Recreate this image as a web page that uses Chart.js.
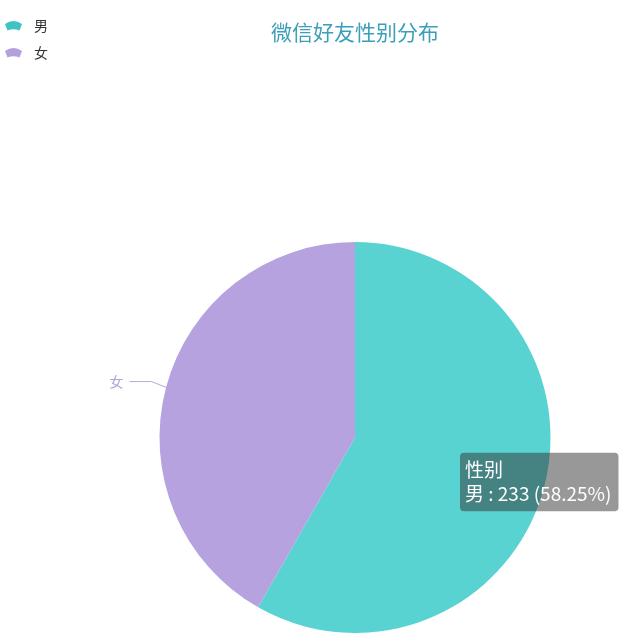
<!DOCTYPE html>
<html>
<head>
<meta charset="utf-8">
<script src="https://cdn.jsdelivr.net/npm/chart.js@4/dist/chart.umd.min.js"></script>
<style>
  html, body { margin: 0; padding: 0; background: #fff; }
  #wrap { width: 636px; height: 633px; position: relative; }
</style>
</head>
<body>
<div id="wrap"><canvas id="pie"></canvas></div>
<script>
// 微信好友性别分布
const categories = ['男', '女'];
const friendCounts = [233, 167];
const seriesName = '性别';
const chartTitle = '微信好友性别分布';

const sliceColors = ['#59d3d2', '#b5a2df'];
const legendColors = ['#3fc3c4', '#b3a0dc'];
const FONT = '"Noto Sans CJK SC", "Noto Sans", sans-serif';
const total = friendCounts.reduce((s, v) => s + v, 0);

// fan-shaped legend icon (echarts style)
function drawFan(ctx, x, y, color) {
    ctx.save();
    ctx.fillStyle = color;
    ctx.beginPath();
    ctx.moveTo(x, y - 2);
    ctx.quadraticCurveTo(x + 8.5, y - 8, x + 17, y - 2);
    ctx.lineTo(x + 14.5, y + 4.5);
    ctx.quadraticCurveTo(x + 8.5, y + 2, x + 2.5, y + 4.5);
    ctx.closePath();
    ctx.fill();
    ctx.restore();
}

// title, legend and outside label for the female slice
const decorPlugin = {
    id: 'decor',
    afterDatasetsDraw(chart) {
        const ctx = chart.ctx;
        ctx.save();
        ctx.font = '21px ' + FONT;
        ctx.fillStyle = '#3b9fb9';
        ctx.textAlign = 'center';
        ctx.textBaseline = 'middle';
        ctx.fillText(chartTitle, 355, 32);

        ctx.font = '14px ' + FONT;
        ctx.textAlign = 'left';
        categories.forEach((c, i) => {
            const yy = 26 + i * 27;
            drawFan(ctx, 5, yy, legendColors[i]);
            ctx.fillStyle = '#333';
            ctx.fillText(c, 34, yy);
        });

        // label line for 女 (the 男 label sits under the tooltip)
        const arc = chart.getDatasetMeta(0).data[1];
        const p = arc.getProps(['x', 'y', 'startAngle', 'endAngle', 'outerRadius'], true);
        const mid = (p.startAngle + p.endAngle) / 2;
        const ex = p.x + Math.cos(mid) * p.outerRadius;
        const ey = p.y + Math.sin(mid) * p.outerRadius;
        const bx = p.x + Math.cos(mid) * (p.outerRadius + 15);
        const by = p.y + Math.sin(mid) * (p.outerRadius + 15) - 2;
        ctx.strokeStyle = '#b8a9dd';
        ctx.lineWidth = 1;
        ctx.beginPath();
        ctx.moveTo(ex, ey);
        ctx.lineTo(bx, by);
        ctx.lineTo(bx - 22, by);
        ctx.stroke();
        ctx.fillStyle = '#b0a2d6';
        ctx.textAlign = 'right';
        ctx.fillText(categories[1], bx - 28, by);
        ctx.restore();
    }
};

Chart.Tooltip.positioners.fixedBox = function () {
    return { x: 460, y: 482 };
};

const chart = new Chart(document.getElementById('pie'), {
    type: 'pie',
    data: {
        labels: categories,
        datasets: [{
            label: seriesName,
            data: friendCounts,
            backgroundColor: sliceColors,
            hoverBackgroundColor: sliceColors,
            borderWidth: 0,
            hoverBorderWidth: 0,
            hoverOffset: 0
        }]
    },
    options: {
        responsive: true,
        maintainAspectRatio: false,
        animation: false,
        events: [],
        layout: { padding: { left: 159, right: 85, top: 242, bottom: 0 } },
        plugins: {
            legend: { display: false },
            title: { display: false },
            tooltip: {
                position: 'fixedBox',
                xAlign: 'left',
                yAlign: 'center',
                caretSize: 0,
                caretPadding: 0,
                backgroundColor: 'rgba(50,50,50,0.5)',
                cornerRadius: 4,
                padding: { left: 5, right: 7, top: 6, bottom: 6 },
                displayColors: false,
                titleFont: { family: FONT, size: 19, weight: 'normal' },
                bodyFont: { family: FONT, size: 19 },
                titleColor: '#fff',
                bodyColor: '#fff',
                titleMarginBottom: 1,
                callbacks: {
                    title: () => seriesName,
                    label: (item) => {
                        const v = item.raw;
                        return item.label + ' : ' + v + ' (' + (v / total * 100).toFixed(2) + '%)';
                    }
                }
            }
        }
    },
    plugins: [decorPlugin]
});

chart.tooltip.setActiveElements([{ datasetIndex: 0, index: 0 }], { x: 460, y: 482 });
chart.update();
</script>
</body>
</html>
